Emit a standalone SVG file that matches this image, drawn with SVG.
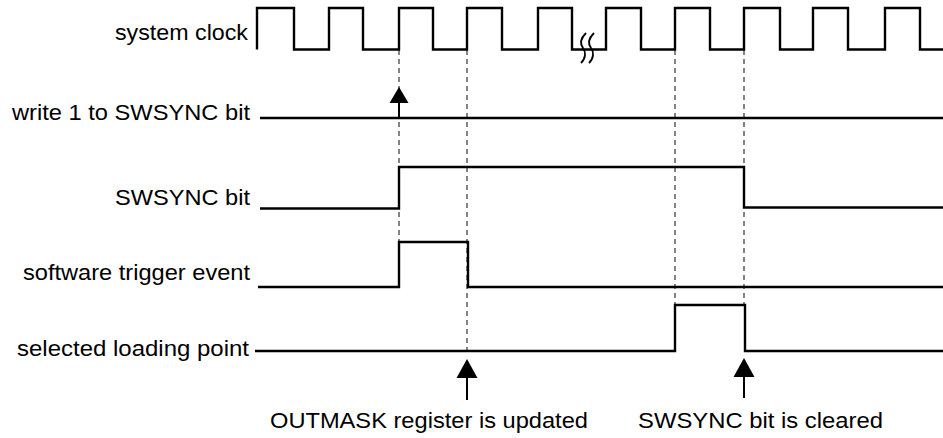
<svg xmlns="http://www.w3.org/2000/svg" width="943" height="438" viewBox="0 0 943 438">
<style>
.sig{fill:none;stroke:#000;stroke-width:2.4;stroke-linejoin:miter;stroke-linecap:butt}
.dash{fill:none;stroke:#333;stroke-width:1.2;stroke-dasharray:5 4}
.lbl{font-family:"Liberation Sans",Arial,Helvetica,sans-serif;font-size:22px;fill:#000}
.arr{fill:#000}
.shaft{stroke:#000;stroke-width:2;fill:none}
.brk{fill:none;stroke:#000;stroke-width:1.8}
</style>
<rect width="943" height="438" fill="#fff"/>
<g id="connectors">
<line class="dash" x1="399" y1="50" x2="399" y2="242"/>
<line class="dash" x1="467" y1="50" x2="467" y2="351"/>
<line class="dash" x1="675" y1="50" x2="675" y2="305"/>
<line class="dash" x1="744" y1="50" x2="744" y2="305"/>
<g id="arrow-write">
<line class="shaft" x1="399" y1="102" x2="399" y2="118"/>
<polygon class="arr" points="399,87 389.5,103 408.5,103"/>
</g>
<g id="arrow-outmask">
<line class="shaft" x1="467" y1="376" x2="467" y2="400"/>
<polygon class="arr" points="467,359 456.5,378 477.5,378"/>
</g>
<g id="arrow-cleared">
<line class="shaft" x1="744" y1="376" x2="744" y2="398"/>
<polygon class="arr" points="744,358 733.5,377 754.5,377"/>
</g>
</g>
<g id="system-clock">
<text class="lbl" x="115" y="40" textLength="133" lengthAdjust="spacingAndGlyphs">system clock</text>
<path class="sig" d="M257,49.5 V8 H294 V49.5 H329 V8 H363 V49.5 H399 V8 H433 V49.5 H467 V8 H502 V49.5 H538 V8 H572 V49.5 H606 V8 H641 V49.5 H675 V8 H710 V49.5 H744 V8 H780 V49.5 H813 V8 H848 V49.5 H885 V8 H920 V49.5 H943"/>
<path class="brk" d="M586,33 C580,39 580,44 583,48 C586,52 586,58 581,63"/>
<path class="brk" d="M594,33 C588,39 588,44 591,48 C594,52 594,58 589,63"/>
</g>
<g id="write-1">
<text class="lbl" x="12" y="120" textLength="238" lengthAdjust="spacingAndGlyphs">write 1 to SWSYNC bit</text>
<path class="sig" d="M260,118 H943"/>
</g>
<g id="swsync-bit">
<text class="lbl" x="115" y="205" textLength="135" lengthAdjust="spacingAndGlyphs">SWSYNC bit</text>
<path class="sig" d="M260,208.5 H399 V167 H744 V207.5 H943"/>
</g>
<g id="software-trigger">
<text class="lbl" x="23" y="280" textLength="227" lengthAdjust="spacingAndGlyphs">software trigger event</text>
<path class="sig" d="M258,287 H399 V242 H468 V287 H943"/>
</g>
<g id="selected-loading">
<text class="lbl" x="17" y="356" textLength="232" lengthAdjust="spacingAndGlyphs">selected loading point</text>
<path class="sig" d="M255,351 H675 V305 H745 V351 H943"/>
</g>
<g id="label-outmask">
<text class="lbl" x="270" y="428" textLength="318" lengthAdjust="spacingAndGlyphs">OUTMASK register is updated</text>
</g>
<g id="label-cleared">
<text class="lbl" x="638" y="428" textLength="245" lengthAdjust="spacingAndGlyphs">SWSYNC bit is cleared</text>
</g>
</svg>
